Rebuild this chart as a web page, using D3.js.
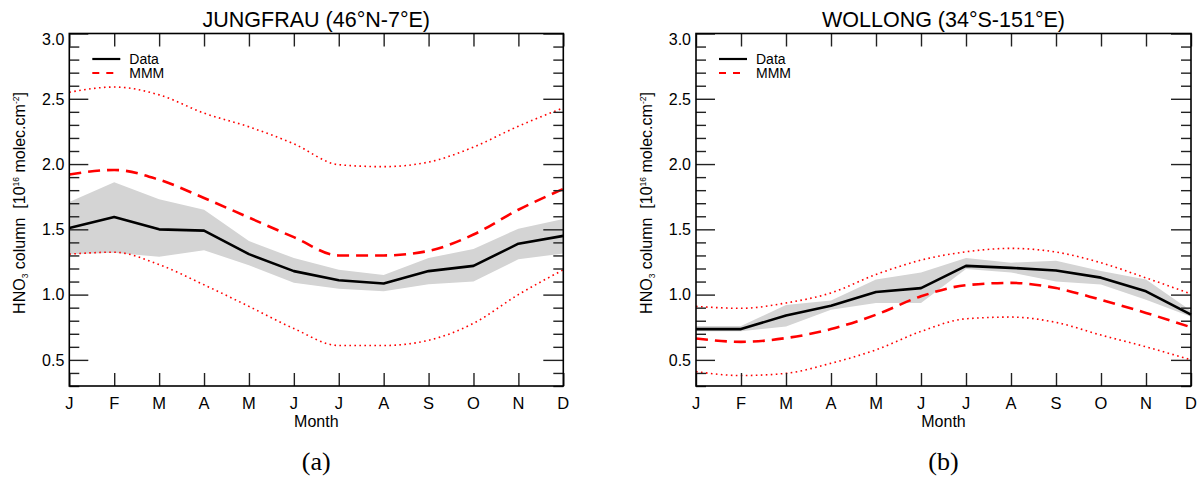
<!DOCTYPE html>
<html>
<head>
<meta charset="utf-8">
<script src="https://cdn.jsdelivr.net/npm/d3@7"></script>
<style>
  html, body { margin: 0; padding: 0; background: #fff; }
  svg { display: block; }
  text { font-family: "Liberation Sans", Arial, Helvetica, sans-serif; fill: #000; }
</style>
</head>
<body>
<svg id="chart" width="1201" height="478"></svg>
<script>
// ---------- data ----------
const months = ["J","F","M","A","M","J","J","A","S","O","N","D"];
const yMajorTicks = [0.5, 1.0, 1.5, 2.0, 2.5, 3.0];
const yTickLabels = ["0.5","1.0","1.5","2.0","2.5","3.0"];
const yDomain = [0.3, 3.0];

const jungfrauTitle = "JUNGFRAU (46\u00B0N-7\u00B0E)";
const jungfrauData     = [1.51, 1.595, 1.50, 1.49, 1.31, 1.18, 1.11, 1.085, 1.18, 1.22, 1.39, 1.45];
const jungfrauDataLow  = [1.31, 1.32, 1.29, 1.34, 1.225, 1.09, 1.045, 1.025, 1.08, 1.10, 1.27, 1.315];
const jungfrauDataHigh = [1.71, 1.86, 1.73, 1.65, 1.41, 1.28, 1.19, 1.15, 1.28, 1.35, 1.505, 1.58];
const jungfrauMMM      = [1.92, 1.955, 1.88, 1.74, 1.59, 1.44, 1.30, 1.30, 1.335, 1.46, 1.65, 1.81];
const jungfrauMMMLow   = [1.31, 1.325, 1.23, 1.075, 0.91, 0.74, 0.61, 0.61, 0.65, 0.78, 1.0, 1.19];
const jungfrauMMMHigh  = [2.55, 2.59, 2.53, 2.39, 2.285, 2.155, 1.995, 1.98, 2.015, 2.13, 2.29, 2.43];

const wollongTitle = "WOLLONG (34\u00B0S-151\u00B0E)";
const wollongData     = [0.736, 0.736, 0.84, 0.915, 1.02, 1.05, 1.22, 1.205, 1.185, 1.13, 1.025, 0.846];
const wollongDataLow  = [0.72, 0.72, 0.756, 0.885, 0.936, 0.936, 1.197, 1.17, 1.10, 1.077, 0.96, 0.83];
const wollongDataHigh = [0.76, 0.76, 0.92, 0.955, 1.115, 1.17, 1.28, 1.245, 1.26, 1.18, 1.115, 0.877];
const wollongMMM      = [0.664, 0.638, 0.667, 0.736, 0.846, 0.987, 1.072, 1.09, 1.05, 0.96, 0.86, 0.75];
const wollongMMMLow   = [0.41, 0.38, 0.397, 0.474, 0.577, 0.718, 0.815, 0.828, 0.787, 0.69, 0.60, 0.50];
const wollongMMMHigh  = [0.91, 0.895, 0.936, 1.013, 1.154, 1.264, 1.328, 1.354, 1.326, 1.244, 1.128, 1.005];

const legendLabels = ["Data", "MMM"];
const panelLabels = ["(a)", "(b)"];

// ---------- drawing ----------
const svg = d3.select("#chart");

function drawPanel(opt) {
  const L = opt.left, R = opt.right, T = 33.5, B = 386;
  const g = svg.append("g");
  const x = d3.scalePoint().domain(d3.range(12)).range([L, R]);
  const y = d3.scaleLinear().domain(yDomain).range([B, T]);
  const idx = d3.range(12);

  // grey band
  g.append("path")
    .datum(idx)
    .attr("d", d3.area().x(i => x(i)).y0(i => y(opt.low[i])).y1(i => y(opt.high[i])))
    .attr("fill", "#d4d4d4").attr("stroke", "none");

  // red dotted min/max
  [opt.mmmLow, opt.mmmHigh].forEach(arr => {
    g.append("path").datum(idx)
      .attr("d", d3.line().x(i => x(i)).y(i => y(arr[i])).curve(d3.curveMonotoneX))
      .attr("fill", "none").attr("stroke", "#ff0000")
      .attr("stroke-width", 1.6).attr("stroke-dasharray", "1.6,3.4");
  });

  // red dashed MMM
  g.append("path").datum(idx)
    .attr("d", d3.line().x(i => x(i)).y(i => y(opt.mmm[i])).curve(d3.curveMonotoneX))
    .attr("fill", "none").attr("stroke", "#ff0000")
    .attr("stroke-width", 2.6).attr("stroke-dasharray", "12,7");

  // black data
  g.append("path").datum(idx)
    .attr("d", d3.line().x(i => x(i)).y(i => y(opt.data[i])))
    .attr("fill", "none").attr("stroke", "#000")
    .attr("stroke-width", 2.6).attr("stroke-linejoin", "round");

  // axes ticks
  const minor = d3.range(3, 31).map(v => v / 10).filter(v => !yMajorTicks.some(m => Math.abs(m - v) < 1e-6));
  const tickColor = "#222";

  const leftMajor = d3.axisRight(y).tickValues(yMajorTicks).tickSize(19).tickFormat("");
  const leftMinor = d3.axisRight(y).tickValues(minor).tickSize(10).tickFormat("");
  const rightMajor = d3.axisLeft(y).tickValues(yMajorTicks).tickSize(20).tickFormat("");
  const rightMinor = d3.axisLeft(y).tickValues(minor).tickSize(10).tickFormat("");
  const bottomAx = d3.axisTop(x).tickSize(13).tickFormat("");
  const topAx = d3.axisBottom(x).tickSize(13).tickFormat("");

  [[leftMajor, `translate(${L},0)`], [leftMinor, `translate(${L},0)`],
   [rightMajor, `translate(${R},0)`], [rightMinor, `translate(${R},0)`],
   [bottomAx, `translate(0,${B})`], [topAx, `translate(0,${T})`]].forEach(([ax, tr]) => {
    const a = g.append("g").attr("transform", tr).call(ax);
    a.select(".domain").remove();
    a.selectAll("line").attr("stroke", tickColor).attr("stroke-width", 1.4);
  });

  // frame
  g.append("rect").attr("x", L).attr("y", T).attr("width", R - L).attr("height", B - T)
    .attr("fill", "none").attr("stroke", "#000").attr("stroke-width", 1.6);

  // y tick labels
  g.selectAll(".ylab").data(yMajorTicks).enter().append("text")
    .attr("x", L - 5).attr("y", d => y(d) + (d === 3.0 ? 6 : 0))
    .attr("dy", "0.36em").attr("text-anchor", "end")
    .style("font-size", "16px").text((d, i) => yTickLabels[i]);

  // x tick labels
  g.selectAll(".xlab").data(idx).enter().append("text")
    .attr("x", i => x(i)).attr("y", 409).attr("text-anchor", "middle")
    .style("font-size", "16.5px").text(i => months[i]);

  // Month
  g.append("text").attr("x", (L + R) / 2).attr("y", 426.5).attr("text-anchor", "middle")
    .style("font-size", "16px").text("Month");

  // title
  g.append("text").attr("x", (L + R) / 2).attr("y", 26.5).attr("text-anchor", "middle")
    .style("font-size", "21.5px").text(opt.title);

  // panel label
  g.append("text").attr("x", (L + R) / 2).attr("y", 470).attr("text-anchor", "middle")
    .style("font-family", "'Liberation Serif', 'DejaVu Serif', serif")
    .style("font-size", "26px").text(opt.panel);

  // y axis label
  const yl = g.append("text")
    .attr("transform", `translate(${L - 44},203) rotate(-90)`)
    .attr("text-anchor", "middle").style("font-size", "16px");
  yl.append("tspan").text("HNO");
  yl.append("tspan").text("3").style("font-size", "8.5px").attr("dy", 3);
  yl.append("tspan").text(" column\u00A0\u00A0[10").attr("dy", -3);
  yl.append("tspan").text("16").style("font-size", "8.5px").attr("dy", -6.5);
  yl.append("tspan").text(" molec.cm").attr("dy", 6.5);
  yl.append("tspan").text("-2").style("font-size", "8.5px").attr("dy", -6.5);
  yl.append("tspan").text("]").attr("dy", 6.5);

  // legend
  const lg = g.append("g");
  lg.append("line").attr("x1", L + 23).attr("x2", L + 51).attr("y1", 59).attr("y2", 59)
    .attr("stroke", "#000").attr("stroke-width", 2.2);
  lg.append("line").attr("x1", L + 23).attr("x2", L + 51).attr("y1", 73).attr("y2", 73)
    .attr("stroke", "#ff0000").attr("stroke-width", 2.2).attr("stroke-dasharray", "7,7");
  lg.append("text").attr("x", L + 60).attr("y", 59).attr("dy", "0.36em")
    .style("font-size", "14px").text(legendLabels[0]);
  lg.append("text").attr("x", L + 60).attr("y", 73).attr("dy", "0.36em")
    .style("font-size", "14px").text(legendLabels[1]);
}

drawPanel({
  left: 69.3, right: 563.3, title: jungfrauTitle, panel: panelLabels[0],
  data: jungfrauData, low: jungfrauDataLow, high: jungfrauDataHigh,
  mmm: jungfrauMMM, mmmLow: jungfrauMMMLow, mmmHigh: jungfrauMMMHigh
});
drawPanel({
  left: 696, right: 1191, title: wollongTitle, panel: panelLabels[1],
  data: wollongData, low: wollongDataLow, high: wollongDataHigh,
  mmm: wollongMMM, mmmLow: wollongMMMLow, mmmHigh: wollongMMMHigh
});
</script>
</body>
</html>
